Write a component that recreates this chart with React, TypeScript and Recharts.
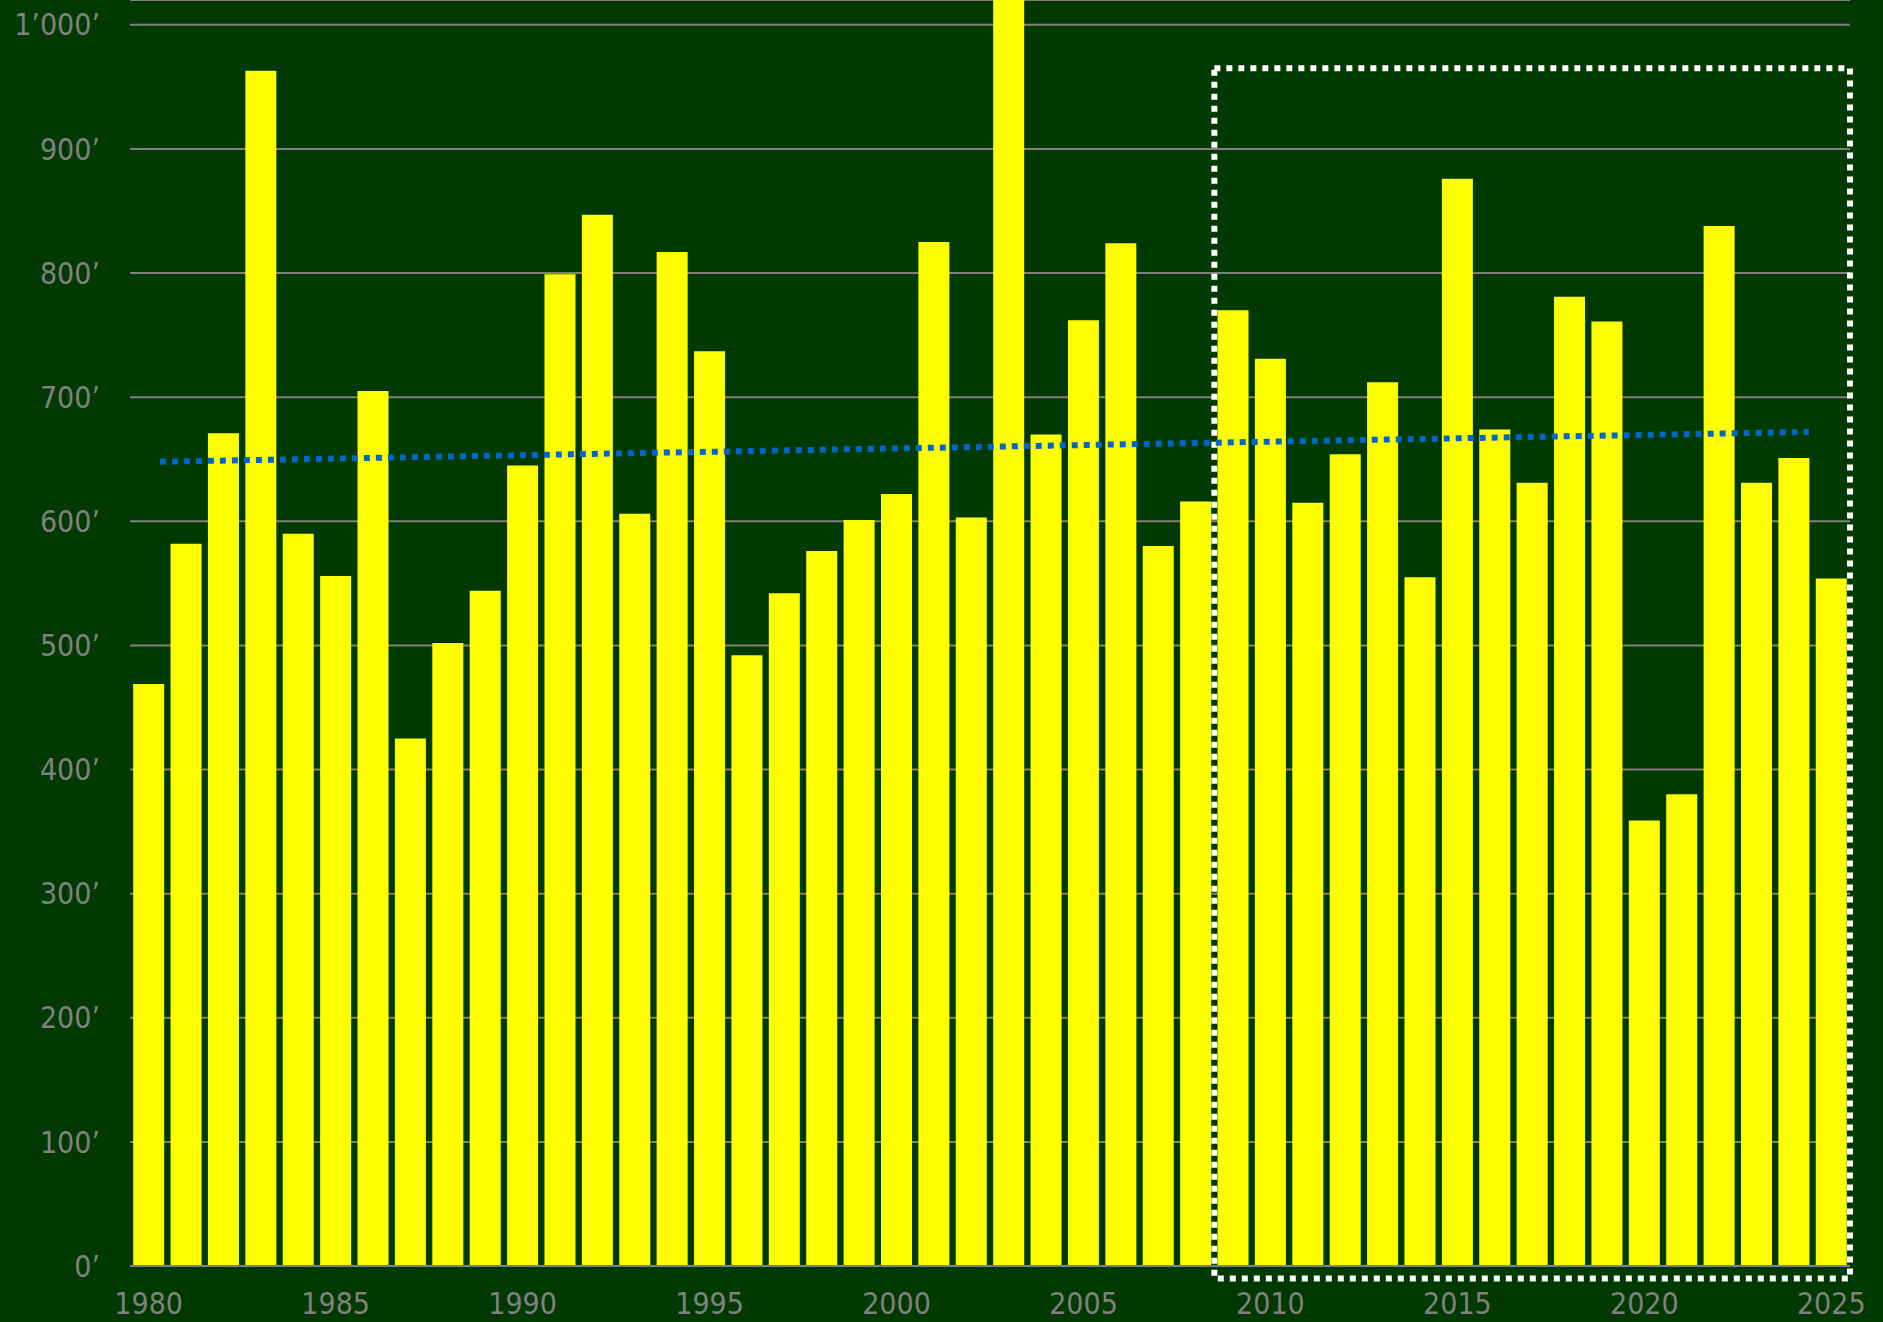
import React from "react";
import {
  ComposedChart,
  Bar,
  Line,
  XAxis,
  YAxis,
  CartesianGrid,
  ReferenceArea,
} from "recharts";

const years = [
  1980, 1981, 1982, 1983, 1984, 1985, 1986, 1987, 1988, 1989,
  1990, 1991, 1992, 1993, 1994, 1995, 1996, 1997, 1998, 1999,
  2000, 2001, 2002, 2003, 2004, 2005, 2006, 2007, 2008, 2009,
  2010, 2011, 2012, 2013, 2014, 2015, 2016, 2017, 2018, 2019,
  2020, 2021, 2022, 2023, 2024, 2025,
];

const values = [
  469, 582, 671, 963, 590, 556, 705, 425, 502, 544,
  645, 799, 847, 606, 817, 737, 492, 542, 576, 601,
  622, 825, 603, 1100, 670, 762, 824, 580, 616, 770,
  731, 615, 654, 712, 555, 876, 674, 631, 781, 761,
  359, 380, 838, 631, 651, 554,
];

const yTicks = [0, 100, 200, 300, 400, 500, 600, 700, 800, 900, 1000];

const trendYears = [1980.3, 2024.4];
const trendValues = [648, 672];

const highlightFrom = 2009;
const highlightTo = 2025;
const highlightLow = -10;
const highlightHigh = 965;

const data = years.map((y, i) => ({ year: y, value: values[i] }));
const trendData = trendYears.map((y, i) => ({ tx: y, trend: trendValues[i] }));

const fmt = (v: number) => {
  const s = String(v);
  const withSep = s.replace(/\B(?=(\d{3})+(?!\d))/g, "\u2019");
  return withSep + "\u2019";
};

const FONT = "'DejaVu Sans Condensed', 'DejaVu Sans', sans-serif";
const GRAY = "#808080";

export default function App() {
  return (
    <div style={{ width: 1883, height: 1322, background: "#003A00" }}>
      <style>{"body{margin:0}"}</style>
      <ComposedChart
        width={1883}
        height={1322}
        data={data}
        margin={{ top: 0, right: 33, left: 0, bottom: 0 }}
        barCategoryGap="8.5%"
      >
        <CartesianGrid vertical={false} stroke={GRAY} strokeWidth={2} />
        <XAxis
          dataKey="year"
          interval={4}
          height={56}
          tickLine={false}
          tickSize={0}
          tickMargin={27}
          axisLine={{ stroke: GRAY, strokeWidth: 2 }}
          tick={{ fill: GRAY, fontSize: 30, fontFamily: FONT, fontStretch: "condensed" }}
        />
        <XAxis
          xAxisId="trend"
          dataKey="tx"
          type="number"
          domain={[1979.5, 2025.5]}
          allowDataOverflow
          hide
        />
        <YAxis
          width={130}
          domain={[0, 1020]}
          allowDataOverflow
          ticks={yTicks}
          tickFormatter={fmt}
          axisLine={false}
          tickLine={false}
          tickSize={0}
          tickMargin={30}
          tick={{ fill: GRAY, fontSize: 30, fontFamily: FONT, fontStretch: "condensed" }}
        />
        <Bar dataKey="value" fill="#FFFF00" isAnimationActive={false} />
        <Line
          xAxisId="trend"
          data={trendData}
          dataKey="trend"
          stroke="#0066CC"
          strokeWidth={6}
          strokeDasharray="6 6"
          dot={false}
          activeDot={false}
          isAnimationActive={false}
        />
        <ReferenceArea
          x1={highlightFrom}
          x2={highlightTo}
          y1={highlightLow}
          y2={highlightHigh}
          ifOverflow="visible"
          fill="none"
          fillOpacity={0}
          stroke="#FFFFFF"
          strokeWidth={6}
          strokeDasharray="6 6"
        />
      </ComposedChart>
    </div>
  );
}
